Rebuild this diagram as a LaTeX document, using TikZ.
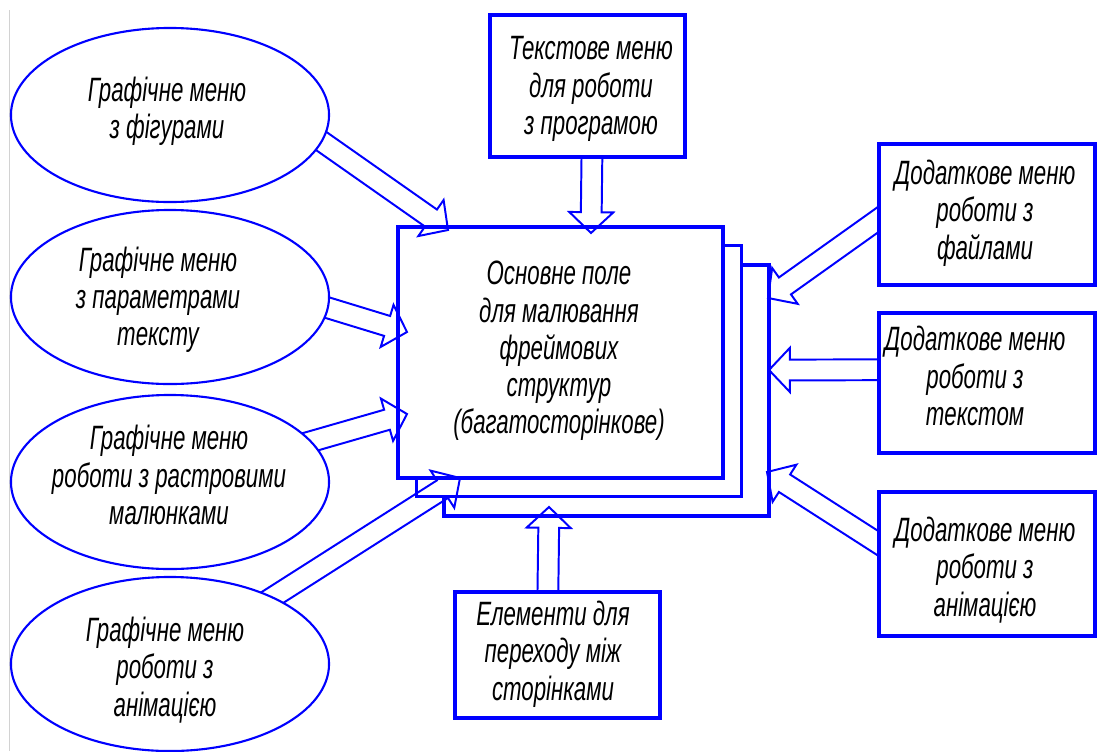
\documentclass[tikz,border=0pt]{standalone}
\usepackage{fontspec}
\newfontfamily\gostfont{Liberation Sans}[FakeStretch=0.66]
\usetikzlibrary{
calc,
shapes.geometric
}
\pgfdeclarelayer{front}
\pgfsetlayers{main,front}

\definecolor{lineblue}{RGB}{0,0,255}

\tikzset{
menu ellipse/.style={ellipse,draw=lineblue,line width=1.5pt,fill=white,
  minimum width=7.95cm,minimum height=4.35cm,inner sep=0pt},
menu box/.style={rectangle,draw=lineblue,line width=2.3pt,fill=white,inner sep=0pt},
page/.style={rectangle,draw=lineblue,line width=2.3pt,fill=white,
  minimum width=8.125cm,minimum height=6.275cm,inner sep=0pt},
menu text/.style={font=\gostfont\itshape\fontsize{24}{26.5}\selectfont,
  align=center,text=black,inner sep=0pt},
hollow arrow/.style={draw=lineblue,line width=1.4pt,line join=miter}
}

% hollow block arrow from #1 (tail, inside a menu) to #2 (tip)
\newcommand{\hollowarrow}[2]{%
\coordinate (ha-tail) at ($(#1)!-0.4cm!(#2)$);
\coordinate (ha-neck) at ($(#2)!0.52cm!(#1)$);
\draw[hollow arrow] ($(ha-tail)!0.26cm!90:(#2)$) -- ($(ha-neck)!0.26cm!90:(#2)$)
  -- ($(ha-neck)!0.55cm!90:(#2)$) -- (#2) -- ($(ha-neck)!0.55cm!-90:(#2)$)
  -- ($(ha-neck)!0.26cm!-90:(#2)$) -- ($(ha-tail)!0.26cm!-90:(#2)$);
}

\begin{document}
\begin{tikzpicture}[x=0.025cm,y=-0.025cm]
\useasboundingbox (0,0) rectangle (1112,751);

% frame edge on the left
\draw[gray!35,line width=0.6pt] (9,10) -- (9,751);

% Drawing field (several pages)
\node[page] (page3) at (606.5,390.5) {};
\node[page] (page2) at (579,371) {};
\node[page] (page1) at (560.5,352.5) {};
\node[menu text] (page-text) at (559,351) {Основне поле\\для малювання\\фреймових\\структур\\(багатосторінкове)};

% Menus
\begin{pgfonlayer}{front}
\node[menu ellipse] (fig) at (170,115) {};
\node[menu ellipse] (par) at (170,297) {};
\node[menu ellipse] (ras) at (170,482) {};
\node[menu ellipse] (anim) at (170,664) {};
\node[menu text] (fig-text) at (167,111) {Графічне меню\\з фігурами};
\node[menu text] (par-text) at (158,300) {Графічне меню\\з параметрами\\тексту};
\node[menu text] (ras-text) at (169,475) {Графічне меню\\роботи з растровими\\малюнками};
\node[menu text] (anim-text) at (165,670) {Графічне меню\\роботи з\\анімацією};

\node[menu box,minimum width=4.875cm,minimum height=3.55cm] (prog) at (587.5,86) {};
\node[menu box,minimum width=5.4cm,minimum height=3.525cm] (files) at (987,214.5) {};
\node[menu box,minimum width=5.4cm,minimum height=3.5cm] (txt) at (987,383) {};
\node[menu box,minimum width=5.4cm,minimum height=3.6cm] (ranim) at (987,564) {};
\node[menu box,minimum width=5.125cm,minimum height=3.15cm] (pages) at (557.5,655) {};
\node[menu text] (prog-text) at (591,89) {Текстове меню\\для роботи\\з програмою};
\node[menu text] (files-text) at (985,213) {Додаткове меню\\роботи з\\файлами};
\node[menu text] (txt-text) at (975,376) {Додаткове меню\\роботи з\\текстом};
\node[menu text] (ranim-text) at (985,570) {Додаткове меню\\роботи з\\анімацією};
\node[menu text] (pages-text) at (553,654) {Елементи для\\переходу між\\сторінками};
\end{pgfonlayer}

% Tails and tips
\coordinate (s-prog) at ([xshift=0.11cm]prog.south);
\coordinate (s-pages) at ([xshift=-0.24cm]pages.north);
\coordinate (s-files) at ([yshift=-0.14cm]files.west);
\coordinate (s-txt) at ([yshift=0.33cm]txt.west);
\coordinate (s-ranim) at ([yshift=0.53cm]ranim.west);
\coordinate (t-fig) at (448,230);
\coordinate (t-par) at (407,332);
\coordinate (t-ras) at (407,414);
\coordinate (t-anim) at (460,478);
\coordinate (t-prog) at (591,233);
\coordinate (t-pages) at (549,507);
\coordinate (t-files) at (768,298);
\coordinate (t-txt) at (769,370);
\coordinate (t-ranim) at (767,472);

% Arrows
\hollowarrow{fig.-10}{t-fig}
\hollowarrow{par.-4}{t-par}
\hollowarrow{ras.16}{t-ras}
\hollowarrow{anim.33}{t-anim}
\hollowarrow{s-prog}{t-prog}
\hollowarrow{s-pages}{t-pages}
\hollowarrow{s-files}{t-files}
\hollowarrow{s-txt}{t-txt}
\hollowarrow{s-ranim}{t-ranim}

\end{tikzpicture}
\end{document}
